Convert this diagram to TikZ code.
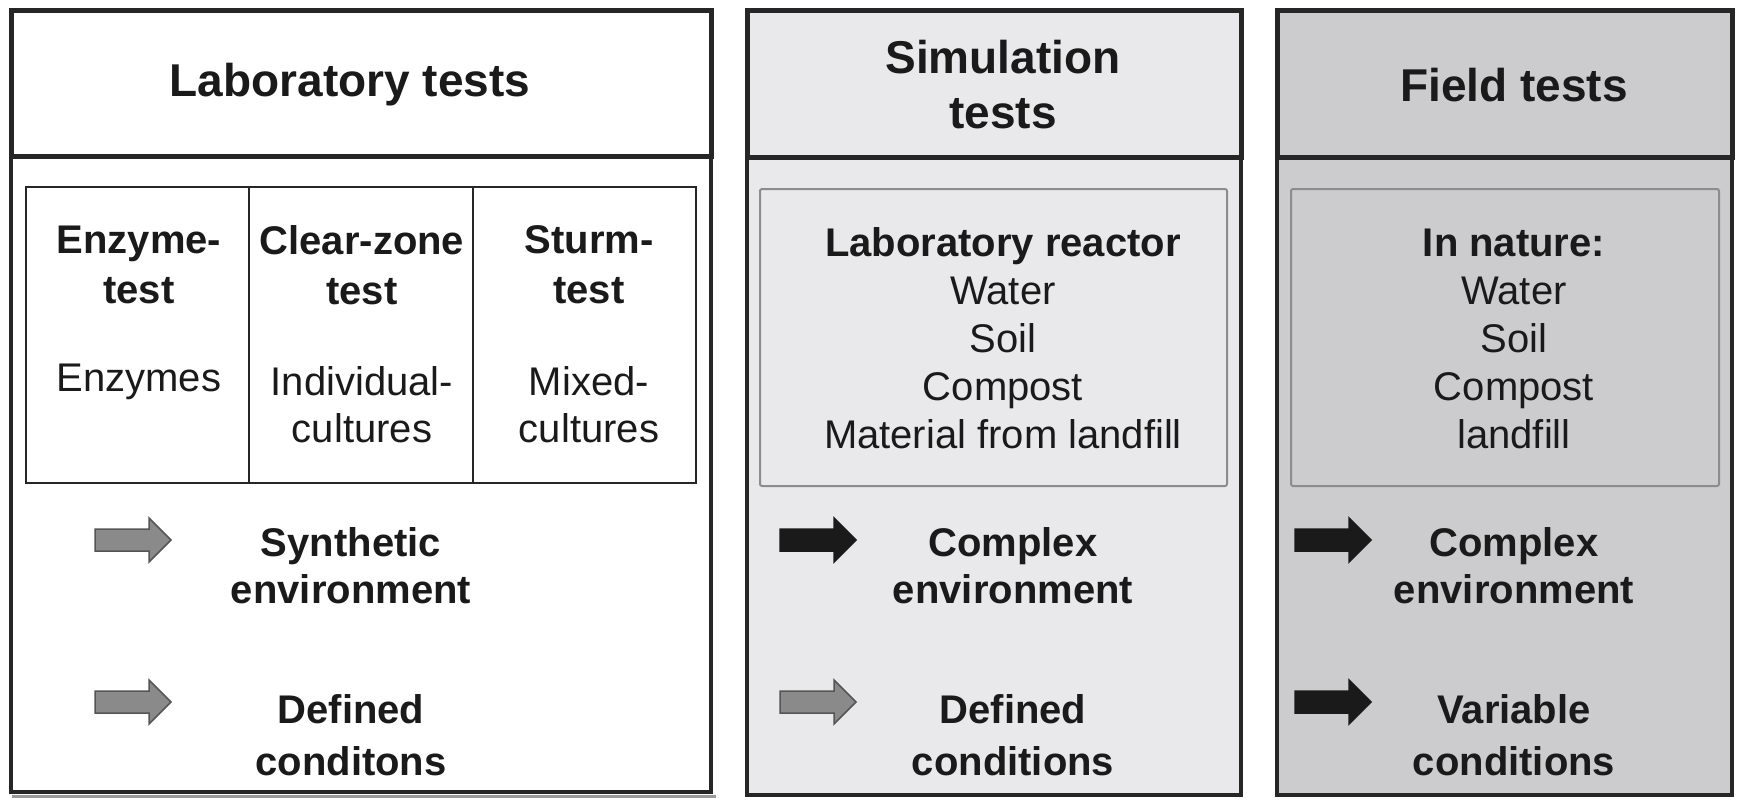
\documentclass[tikz,border=0pt]{standalone}
\usepackage{fontspec}
\setmainfont{Liberation Sans}
\usetikzlibrary{calc}
\definecolor{linec}{HTML}{262626}
\definecolor{txt}{HTML}{1A1A1A}
\definecolor{innerc}{HTML}{8C8C8C}
\definecolor{fillB}{HTML}{E9E9EB}
\definecolor{fillC}{HTML}{CCCCCE}
\definecolor{arrgray}{HTML}{8A8A8A}
\definecolor{arrgrayd}{HTML}{555555}
\definecolor{arrblack}{HTML}{1A1A1A}
\definecolor{shadowc}{HTML}{9A9A9A}
\begin{document}
\begin{tikzpicture}[x=1pt,y=-1pt,
  box/.style={draw=linec, line width=3.5pt, inner sep=0pt},
  hdr/.style={draw=linec, line width=5pt, inner sep=0pt},
  innerbox/.style={draw=innerc, line width=2pt, rounded corners=2pt, inner sep=0pt},
  tbl/.style={draw=linec, line width=2pt, inner sep=0pt},
  shadowline/.style={draw=shadowc, line width=3pt},
  head/.style={font=\fontsize{46}{55}\selectfont\bfseries, align=center, text=txt, inner sep=0pt},
  lbl/.style={font=\fontsize{40}{48}\selectfont, align=center, text=txt, inner sep=0pt},
  blbl/.style={font=\fontsize{40}{48}\selectfont\bfseries, align=center, text=txt, inner sep=0pt},
  grayarr/.style={fill=arrgray, draw=arrgrayd, line width=1.5pt, line join=miter},
  blackarr/.style={fill=arrblack, draw=arrblack, line width=1.5pt, line join=miter},
  fatarr/.pic={\path[pic actions] (0,-11) -- (54,-11) -- (54,-22) -- (76,0) -- (54,22) -- (54,11) -- (0,11) -- cycle;}
]
\useasboundingbox (0,0) rectangle (1741,800);
\fill[white] (0,0) rectangle (1741,800);

% column 1
\node[box, fill=white, minimum width=700pt, minimum height=637pt] (b1) at (361,473.5) {};
\draw[shadowline] ([xshift=3pt,yshift=-3pt]b1.south west) -- ([xshift=3pt,yshift=-3pt]b1.south east);
\node[hdr, fill=white, minimum width=700pt, minimum height=145pt] (h1) at (361,83.5) {};
\node[head] (h1t) at (350,85) {Laboratory tests};
\node[tbl, fill=white, minimum width=670pt, minimum height=296pt] (t1) at (361,335) {};
\draw[tbl] ($(t1.north west)!1/3!(t1.north east)$) -- ($(t1.south west)!1/3!(t1.south east)$);
\draw[tbl] ($(t1.north west)!2/3!(t1.north east)$) -- ($(t1.south west)!2/3!(t1.south east)$);
\node[blbl, font=\fontsize{40}{50}\selectfont\bfseries] (c1a) at (139,265) {Enzyme-\\test};
\node[blbl, font=\fontsize{40}{50}\selectfont\bfseries] (c1b) at (362,265) {Clear-zone\\test};
\node[blbl, font=\fontsize{40}{50}\selectfont\bfseries] (c1c) at (589,265) {Sturm-\\test};
\node[lbl] (c1d) at (139,382) {Enzymes};
\node[lbl, font=\fontsize{40}{47}\selectfont] (c1e) at (362,405) {Individual-\\cultures};
\node[lbl, font=\fontsize{40}{47}\selectfont] (c1f) at (589,405) {Mixed-\\cultures};
\pic[grayarr] (a11) at (95,540) {fatarr};
\pic[grayarr] (a12) at (95,702) {fatarr};
\node[blbl, font=\fontsize{40}{47}\selectfont\bfseries] (e1) at (351,566) {Synthetic\\environment};
\node[blbl, font=\fontsize{40}{52}\selectfont\bfseries] (d1) at (351,735) {Defined\\conditons};

% column 2
\node[box, fill=fillB, minimum width=494pt, minimum height=638pt] (b2) at (994,476) {};
\node[hdr, fill=fillB, minimum width=494pt, minimum height=146pt] (h2) at (994,84) {};
\node[head] (h2t) at (1003,85) {Simulation\\tests};
\node[innerbox, fill=fillB, minimum width=467pt, minimum height=297pt] (i2) at (993.5,337.5) {};
\node[lbl] (i2t) at (1003,338.5) {\textbf{Laboratory reactor}\\Water\\Soil\\Compost\\Material from landfill};
\pic[blackarr] (a21) at (780,540) {fatarr};
\pic[grayarr] (a22) at (780,702) {fatarr};
\node[blbl, font=\fontsize{40}{47}\selectfont\bfseries] (e2) at (1013,566) {Complex\\environment};
\node[blbl, font=\fontsize{40}{52}\selectfont\bfseries] (d2) at (1013,735) {Defined\\conditions};

% column 3
\node[box, fill=fillC, minimum width=455pt, minimum height=638pt] (b3) at (1504.5,476) {};
\node[hdr, fill=fillC, minimum width=455pt, minimum height=146pt] (h3) at (1504.5,84) {};
\node[head] (h3t) at (1514,85) {Field tests};
\node[innerbox, fill=fillC, minimum width=428pt, minimum height=297pt] (i3) at (1505,337.5) {};
\node[lbl] (i3t) at (1514,338.5) {\textbf{In nature:}\\Water\\Soil\\Compost\\landfill};
\pic[blackarr] (a31) at (1295,540) {fatarr};
\pic[blackarr] (a32) at (1295,702) {fatarr};
\node[blbl, font=\fontsize{40}{47}\selectfont\bfseries] (e3) at (1514,566) {Complex\\environment};
\node[blbl, font=\fontsize{40}{52}\selectfont\bfseries] (d3) at (1514,735) {Variable\\conditions};
\end{tikzpicture}
\end{document}
